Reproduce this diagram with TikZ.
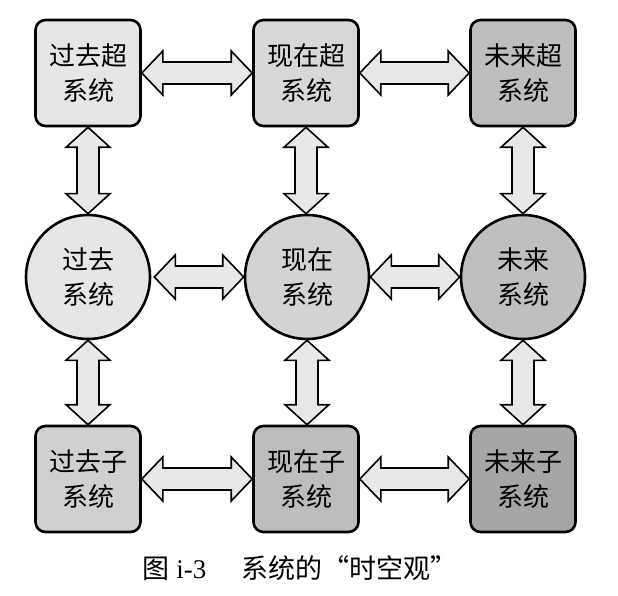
\documentclass[tikz,border=0pt]{standalone}
\usepackage{fontspec}
\setmainfont{Liberation Serif}
\newfontfamily\cjk{Noto Sans CJK SC}
\usetikzlibrary{calc}
\definecolor{fA}{HTML}{E6E6E6}
\definecolor{fB}{HTML}{D8D8D8}
\definecolor{fC}{HTML}{BEBEBE}
\definecolor{cA}{HTML}{E6E6E6}
\definecolor{cB}{HTML}{D3D3D3}
\definecolor{cC}{HTML}{BFBFBF}
\definecolor{bA}{HTML}{D0D0D0}
\definecolor{bB}{HTML}{BDBDBD}
\definecolor{bC}{HTML}{A6A6A6}
\definecolor{arr}{HTML}{E8E8E8}
\tikzset{
  sysbox/.style={draw=black, line width=2.6pt, rounded corners=10pt,
    minimum width=105pt, minimum height=106pt, inner sep=0pt, align=center,
    font=\cjk\fontsize{26}{35}\selectfont},
  syscirc/.style={draw=black, line width=2.6pt, circle, minimum size=124pt,
    inner sep=0pt, align=center, font=\cjk\fontsize{26}{35}\selectfont},
  fatarrow/.style={draw=black, fill=arr, line width=1.6pt, line join=miter}
}
\newcommand\harr[2]{%
  \draw[fatarrow] let \p1=(#1), \p2=(#2) in
    (\x1,\y1) -- (\x1+21pt,\y1+22pt) -- (\x1+21pt,\y1+11pt) -- (\x2-21pt,\y1+11pt)
    -- (\x2-21pt,\y1+22pt) -- (\x2,\y1) -- (\x2-21pt,\y1-22pt) -- (\x2-21pt,\y1-11pt)
    -- (\x1+21pt,\y1-11pt) -- (\x1+21pt,\y1-22pt) -- cycle;}
\newcommand\varr[2]{%
  \draw[fatarrow] let \p1=(#1), \p2=(#2) in
    (\x1,\y1) -- (\x1+22pt,\y1-20pt) -- (\x1+11pt,\y1-20pt) -- (\x1+11pt,\y2+20pt)
    -- (\x1+22pt,\y2+20pt) -- (\x1,\y2) -- (\x1-22pt,\y2+20pt) -- (\x1-11pt,\y2+20pt)
    -- (\x1-11pt,\y1-20pt) -- (\x1-22pt,\y1-20pt) -- cycle;}
\begin{document}
\begin{tikzpicture}[x=1pt,y=-1pt]
\useasboundingbox[fill=white] (0,0) rectangle (618,596);
% top row
\node[sysbox, fill=fA] (ts1) at (88,73) {过去超\\系统};
\node[sysbox, fill=fB] (ts2) at (306,73) {现在超\\系统};
\node[sysbox, fill=fC] (ts3) at (523,73) {未来超\\系统};
% middle row
\node[syscirc, fill=cA] (c1) at (88,277) {过去\\系统};
\node[syscirc, fill=cB] (c2) at (307,277) {现在\\系统};
\node[syscirc, fill=cC] (c3) at (523,277) {未来\\系统};
% bottom row
\node[sysbox, fill=bA] (bs1) at (88,479) {过去子\\系统};
\node[sysbox, fill=bB] (bs2) at (306,479) {现在子\\系统};
\node[sysbox, fill=bC] (bs3) at (523,479) {未来子\\系统};
% horizontal arrows
\harr{ts1.east}{ts2.west}
\harr{ts2.east}{ts3.west}
\harr{$(c1.east)+(3,0)$}{c2.west}
\harr{c2.east}{c3.west}
\harr{bs1.east}{bs2.west}
\harr{bs2.east}{bs3.west}
% vertical arrows
\varr{ts1.south}{c1.north}
\varr{ts2.south}{c2.north}
\varr{ts3.south}{c3.north}
\varr{c1.south}{bs1.north}
\varr{c2.south}{bs2.north}
\varr{c3.south}{bs3.north}
% caption
\node[font=\fontsize{27}{30}\selectfont, inner sep=0pt] (cap) at (300,568)
  {{\cjk 图} i-3\hspace{1.3em}{\cjk 系统的“时空观”}};
\end{tikzpicture}
\end{document}
